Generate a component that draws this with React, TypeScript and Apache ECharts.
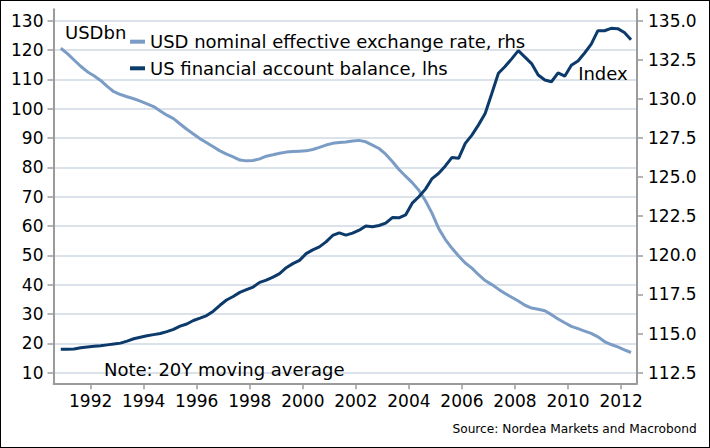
import React, { useEffect, useRef } from "react";
import * as echarts from "echarts";

// Quarterly observations starting at 1990.875 (decimal years)
const START_YEAR = 1990.875;
const STEP_YEARS = 0.25;

// US financial account balance, USDbn (lhs), 20Y moving average
const financialAccount = [
  18.0, 18.0, 18.1, 18.5, 18.8, 19.0, 19.2, 19.5, 19.8, 20.1,
  20.8, 21.6, 22.1, 22.6, 23.0, 23.4, 24.0, 24.8, 25.9, 26.6,
  27.8, 28.6, 29.5, 31.0, 33.0, 34.8, 36.0, 37.4, 38.3, 39.2,
  40.8, 41.6, 42.6, 43.8, 45.8, 47.2, 48.3, 50.6, 51.9, 52.9,
  54.6, 56.8, 57.7, 56.9, 57.6, 58.6, 60.0, 59.8, 60.2, 61.0,
  62.9, 62.8, 63.8, 67.8, 70.0, 72.6, 76.2, 78.0, 80.5, 83.4,
  83.1, 88.2, 91.0, 94.5, 98.4, 105.2, 112.1, 114.4, 117.0, 119.8,
  117.6, 115.4, 111.5, 109.8, 109.2, 112.2, 111.1, 114.8, 116.3, 119.0,
  122.0, 126.6, 126.6, 127.4, 127.3, 126.0, 123.5,
];

// USD nominal effective exchange rate, index (rhs), 20Y moving average
const usdNeer = [
  133.24, 132.9, 132.49, 132.09, 131.74, 131.48, 131.18, 130.8, 130.46, 130.28,
  130.14, 130.01, 129.86, 129.69, 129.51, 129.23, 128.96, 128.74, 128.4, 128.06,
  127.76, 127.46, 127.2, 126.94, 126.68, 126.47, 126.3, 126.09, 126.04, 126.06,
  126.17, 126.34, 126.43, 126.53, 126.6, 126.64, 126.66, 126.68, 126.77, 126.9,
  127.05, 127.16, 127.22, 127.24, 127.31, 127.35, 127.26, 127.05, 126.83, 126.47,
  126.0, 125.49, 125.06, 124.65, 124.16, 123.49, 122.68, 121.71, 121.01, 120.45,
  119.96, 119.51, 119.18, 118.76, 118.39, 118.13, 117.84, 117.56, 117.32, 117.08,
  116.81, 116.63, 116.55, 116.46, 116.21, 115.93, 115.69, 115.46, 115.31, 115.16,
  115.01, 114.79, 114.49, 114.3, 114.15, 113.96, 113.79,
];

const xTicks = [1992, 1994, 1996, 1998, 2000, 2002, 2004, 2006, 2008, 2010, 2012];
const lhsTicks = [10, 20, 30, 40, 50, 60, 70, 80, 90, 100, 110, 120, 130];
const rhsTicks = [112.5, 115, 117.5, 120, 122.5, 125, 127.5, 130, 132.5, 135];

const NAME_NEER = "USD nominal effective exchange rate, rhs";
const NAME_FA = "US financial account balance, lhs";

const FONT = "DejaVu Sans";
const LIGHT = "#7b9cc4";
const DARK = "#0c3a6b";
const AXIS = "#9b9b9b";
const GRID = "#dce2e9";

export default function App() {
  const ref = useRef<HTMLDivElement>(null);

  useEffect(() => {
    if (!ref.current) return;
    const chart = echarts.init(ref.current, null, { renderer: "svg" });

    const faData = financialAccount.map((v, i) => [START_YEAR + i * STEP_YEARS, v]);
    const neerData = usdNeer.map((v, i) => [START_YEAR + i * STEP_YEARS, v]);

    const axisLabelBase = { fontSize: 17, color: "#000", fontFamily: FONT };

    chart.setOption({
      animation: false,
      backgroundColor: "#fff",
      textStyle: { fontFamily: FONT },
      grid: { left: 52.5, right: 72, top: 8.3, bottom: 63.7, containLabel: false },
      xAxis: {
        type: "value",
        min: 1990.6,
        max: 2012.6,
        axisLine: { show: true, onZero: false, lineStyle: { color: AXIS, width: 2 } },
        axisTick: { show: true, customValues: xTicks, length: 6, lineStyle: { color: AXIS, width: 1.5 } },
        axisLabel: { ...axisLabelBase, customValues: xTicks, margin: 9, formatter: (v: number) => String(Math.round(v)) },
        splitLine: { show: false },
      },
      yAxis: [
        {
          type: "value",
          position: "left",
          min: 6.4,
          max: 133.9,
          axisLine: { show: true, onZero: false, lineStyle: { color: AXIS, width: 2 } },
          axisTick: { show: true, customValues: lhsTicks, length: 6, lineStyle: { color: AXIS, width: 1.5 } },
          axisLabel: { ...axisLabelBase, customValues: lhsTicks, margin: 10, formatter: (v: number) => String(Math.round(v)) },
          splitLine: { show: true, lineStyle: { color: GRID, width: 2 } },
        },
        {
          type: "value",
          position: "right",
          min: 111.82,
          max: 135.73,
          axisLine: { show: true, onZero: false, lineStyle: { color: AXIS, width: 2 } },
          axisTick: { show: true, customValues: rhsTicks, length: 6, lineStyle: { color: AXIS, width: 1.5 } },
          axisLabel: { ...axisLabelBase, customValues: rhsTicks, margin: 11, formatter: (v: number) => v.toFixed(1) },
          splitLine: { show: false },
        },
      ],
      legend: {
        orient: "vertical",
        left: 129,
        top: 30.7,
        padding: 0,
        itemGap: 6.6,
        itemWidth: 15,
        itemHeight: 4,
        icon: "rect",
        textStyle: { fontSize: 18, color: "#000", fontFamily: FONT, lineHeight: 20 },
        data: [NAME_NEER, NAME_FA],
      },
      graphic: [
        { type: "text", x: 64, y: 31, z: 10, style: { text: "USDbn", fontSize: 18, fontFamily: FONT, fill: "#000", verticalAlign: "middle" } },
        { type: "text", x: 626.7, y: 72, z: 10, style: { text: "Index", fontSize: 18, fontFamily: FONT, fill: "#000", align: "right", verticalAlign: "middle" } },
        { type: "text", x: 103, y: 368.5, z: 10, style: { text: "Note: 20Y moving average", fontSize: 18, fontFamily: FONT, fill: "#000", verticalAlign: "middle" } },
        { type: "text", x: 695.7, y: 427.5, z: 10, style: { text: "Source: Nordea Markets and Macrobond", fontSize: 12.2, fontFamily: FONT, fill: "#000", align: "right", verticalAlign: "middle" } },
      ],
      series: [
        {
          name: NAME_FA,
          type: "line",
          yAxisIndex: 0,
          data: faData,
          showSymbol: false,
          symbol: "none",
          lineStyle: { color: DARK, width: 3 },
          itemStyle: { color: DARK },
          z: 3,
        },
        {
          name: NAME_NEER,
          type: "line",
          yAxisIndex: 1,
          data: neerData,
          showSymbol: false,
          symbol: "none",
          lineStyle: { color: LIGHT, width: 3 },
          itemStyle: { color: LIGHT },
          z: 2,
        },
      ],
    });

    return () => chart.dispose();
  }, []);

  return (
    <div style={{ position: "absolute", left: 0, top: 0, width: 710, height: 448, boxSizing: "border-box", border: "1px solid #000", background: "#fff" }}>
      <div ref={ref} style={{ width: 708, height: 446 }} />
    </div>
  );
}
